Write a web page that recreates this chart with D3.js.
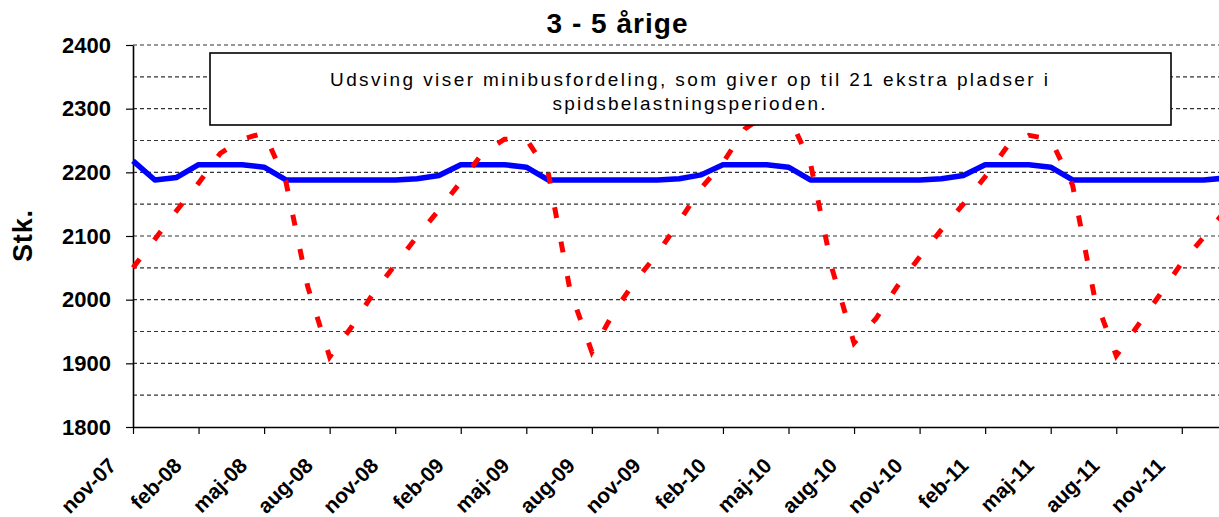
<!DOCTYPE html>
<html>
<head>
<meta charset="utf-8">
<script src="https://cdn.jsdelivr.net/npm/d3@7"></script>
<style>
  body { margin: 0; background: #fff; }
  svg { display: block; font-family: Arial, "Liberation Sans", sans-serif; }
</style>
</head>
<body>
<script>
// month labels, nov-07 .. jan-12
var months = [
  "nov-07","dec-07","jan-08","feb-08","mar-08","apr-08","maj-08","jun-08","jul-08","aug-08","sep-08","okt-08",
  "nov-08","dec-08","jan-09","feb-09","mar-09","apr-09","maj-09","jun-09","jul-09","aug-09","sep-09","okt-09",
  "nov-09","dec-09","jan-10","feb-10","mar-10","apr-10","maj-10","jun-10","jul-10","aug-10","sep-10","okt-10",
  "nov-10","dec-10","jan-11","feb-11","mar-11","apr-11","maj-11","jun-11","jul-11","aug-11","sep-11","okt-11",
  "nov-11","dec-11","jan-12"
];

// red dashed series (children)
var boern = [
  2050, 2095, 2140, 2183, 2230, 2252, 2262, 2185, 2020, 1910, 1957, 2010,
  2055, 2099, 2141, 2185, 2230, 2252, 2252, 2200, 2015, 1918, 1980, 2030,
  2072, 2123, 2175, 2215, 2268, 2292, 2290, 2215, 2048, 1932, 1970, 2022,
  2067, 2110, 2150, 2193, 2240, 2258, 2252, 2180, 2005, 1912, 1960, 2008,
  2058, 2098, 2140
];

// blue series (places incl. minibus)
var pladser = [
  2218, 2188, 2192, 2212, 2212, 2212, 2208, 2188, 2188, 2188, 2188, 2188,
  2188, 2190, 2195, 2212, 2212, 2212, 2208, 2188, 2188, 2188, 2188, 2188,
  2188, 2190, 2196, 2212, 2212, 2212, 2208, 2188, 2188, 2188, 2188, 2188,
  2188, 2190, 2195, 2212, 2212, 2212, 2208, 2188, 2188, 2188, 2188, 2188,
  2188, 2188, 2191
];

var yTicks = [1800, 1900, 2000, 2100, 2200, 2300, 2400];
var gridValues = [1850, 1900, 1950, 2000, 2050, 2100, 2150, 2200, 2250, 2300, 2350, 2400];

var title = "3 - 5 årige";
var yLabel = "Stk.";
var note = ["Udsving viser minibusfordeling, som giver op til 21 ekstra pladser i",
            "spidsbelastningsperioden."];

var width = 1219, height = 517;
var plotLeft = 133, plotTop = 45, plotBottom = 427;
var monthW = 21.85;

var svg = d3.select("body").append("svg")
    .attr("width", width)
    .attr("height", height);

var x = d3.scaleLinear()
    .domain([0, months.length - 1])
    .range([plotLeft, plotLeft + (months.length - 1) * monthW]);

var y = d3.scaleLinear()
    .domain([1800, 2400])
    .range([plotBottom, plotTop]);

// dashed gridlines
svg.append("g").selectAll("line")
    .data(gridValues)
    .enter().append("line")
    .attr("x1", plotLeft)
    .attr("x2", width)
    .attr("y1", function (d) { return y(d); })
    .attr("y2", function (d) { return y(d); })
    .attr("stroke", "#333")
    .attr("stroke-width", 1.2)
    .attr("stroke-dasharray", "4,3");

// y axis
var yAxis = svg.append("g")
    .attr("transform", "translate(" + plotLeft + ",0)")
    .call(d3.axisLeft(y).tickValues(yTicks).tickSize(7).tickSizeOuter(0).tickPadding(15)
        .tickFormat(d3.format("d")));
yAxis.select(".domain").attr("stroke", "#000").attr("stroke-width", 1.6);
yAxis.selectAll(".tick line").attr("stroke", "#000").attr("stroke-width", 1.2);
yAxis.selectAll(".tick text")
    .attr("font-size", "22px")
    .attr("font-weight", "bold")
    .attr("font-family", "Arial, 'Liberation Sans', sans-serif")
    .attr("fill", "#000");

// x axis
var qIdx = d3.range(0, months.length, 3);
var xAxis = svg.append("g")
    .attr("transform", "translate(0," + plotBottom + ")")
    .call(d3.axisBottom(x).tickValues(qIdx).tickSize(7).tickSizeOuter(0)
        .tickFormat(function (i) { return months[i]; }));
xAxis.select(".domain").attr("stroke", "#000").attr("stroke-width", 1.6);
xAxis.selectAll(".tick line").attr("stroke", "#000").attr("stroke-width", 1.2);
xAxis.selectAll(".tick text")
    .attr("font-size", "21px")
    .attr("font-weight", "bold")
    .attr("font-family", "Arial, 'Liberation Sans', sans-serif")
    .attr("fill", "#000")
    .attr("text-anchor", "end")
    .attr("dy", null)
    .attr("y", null)
    .attr("transform", "translate(-16,40) rotate(-45)");

// lines
var line = function (vals) {
    return d3.line()
        .x(function (d, i) { return x(i); })
        .y(function (d) { return y(d); })(vals);
};

svg.append("path")
    .attr("d", line(pladser))
    .attr("fill", "none")
    .attr("stroke", "#0000ff")
    .attr("stroke-width", 5.5)
    .attr("stroke-linejoin", "round");

svg.append("path")
    .attr("d", line(boern))
    .attr("fill", "none")
    .attr("stroke", "#ff0000")
    .attr("stroke-width", 5)
    .attr("stroke-dasharray", "11,24");

// note box
svg.append("rect")
    .attr("x", 210)
    .attr("y", 53)
    .attr("width", 961)
    .attr("height", 72)
    .attr("fill", "#fff")
    .attr("stroke", "#000")
    .attr("stroke-width", 1.6);

var noteLen = [718, 273];
note.forEach(function (t, k) {
    svg.append("text")
        .attr("x", 689)
        .attr("y", 86 + k * 24)
        .attr("text-anchor", "middle")
        .attr("font-size", "19px")
        .attr("textLength", noteLen[k])
        .attr("lengthAdjust", "spacing")
        .attr("fill", "#000")
        .text(t);
});

// title
svg.append("text")
    .attr("x", 617)
    .attr("y", 33)
    .attr("text-anchor", "middle")
    .attr("font-size", "28px")
    .attr("font-weight", "bold")
    .attr("textLength", 141)
    .attr("lengthAdjust", "spacing")
    .text(title);

// y label
svg.append("text")
    .attr("transform", "translate(32,236) rotate(-90)")
    .attr("text-anchor", "middle")
    .attr("font-size", "27px")
    .attr("font-weight", "bold")
    .attr("textLength", 52)
    .attr("lengthAdjust", "spacing")
    .text(yLabel);
</script>
</body>
</html>
